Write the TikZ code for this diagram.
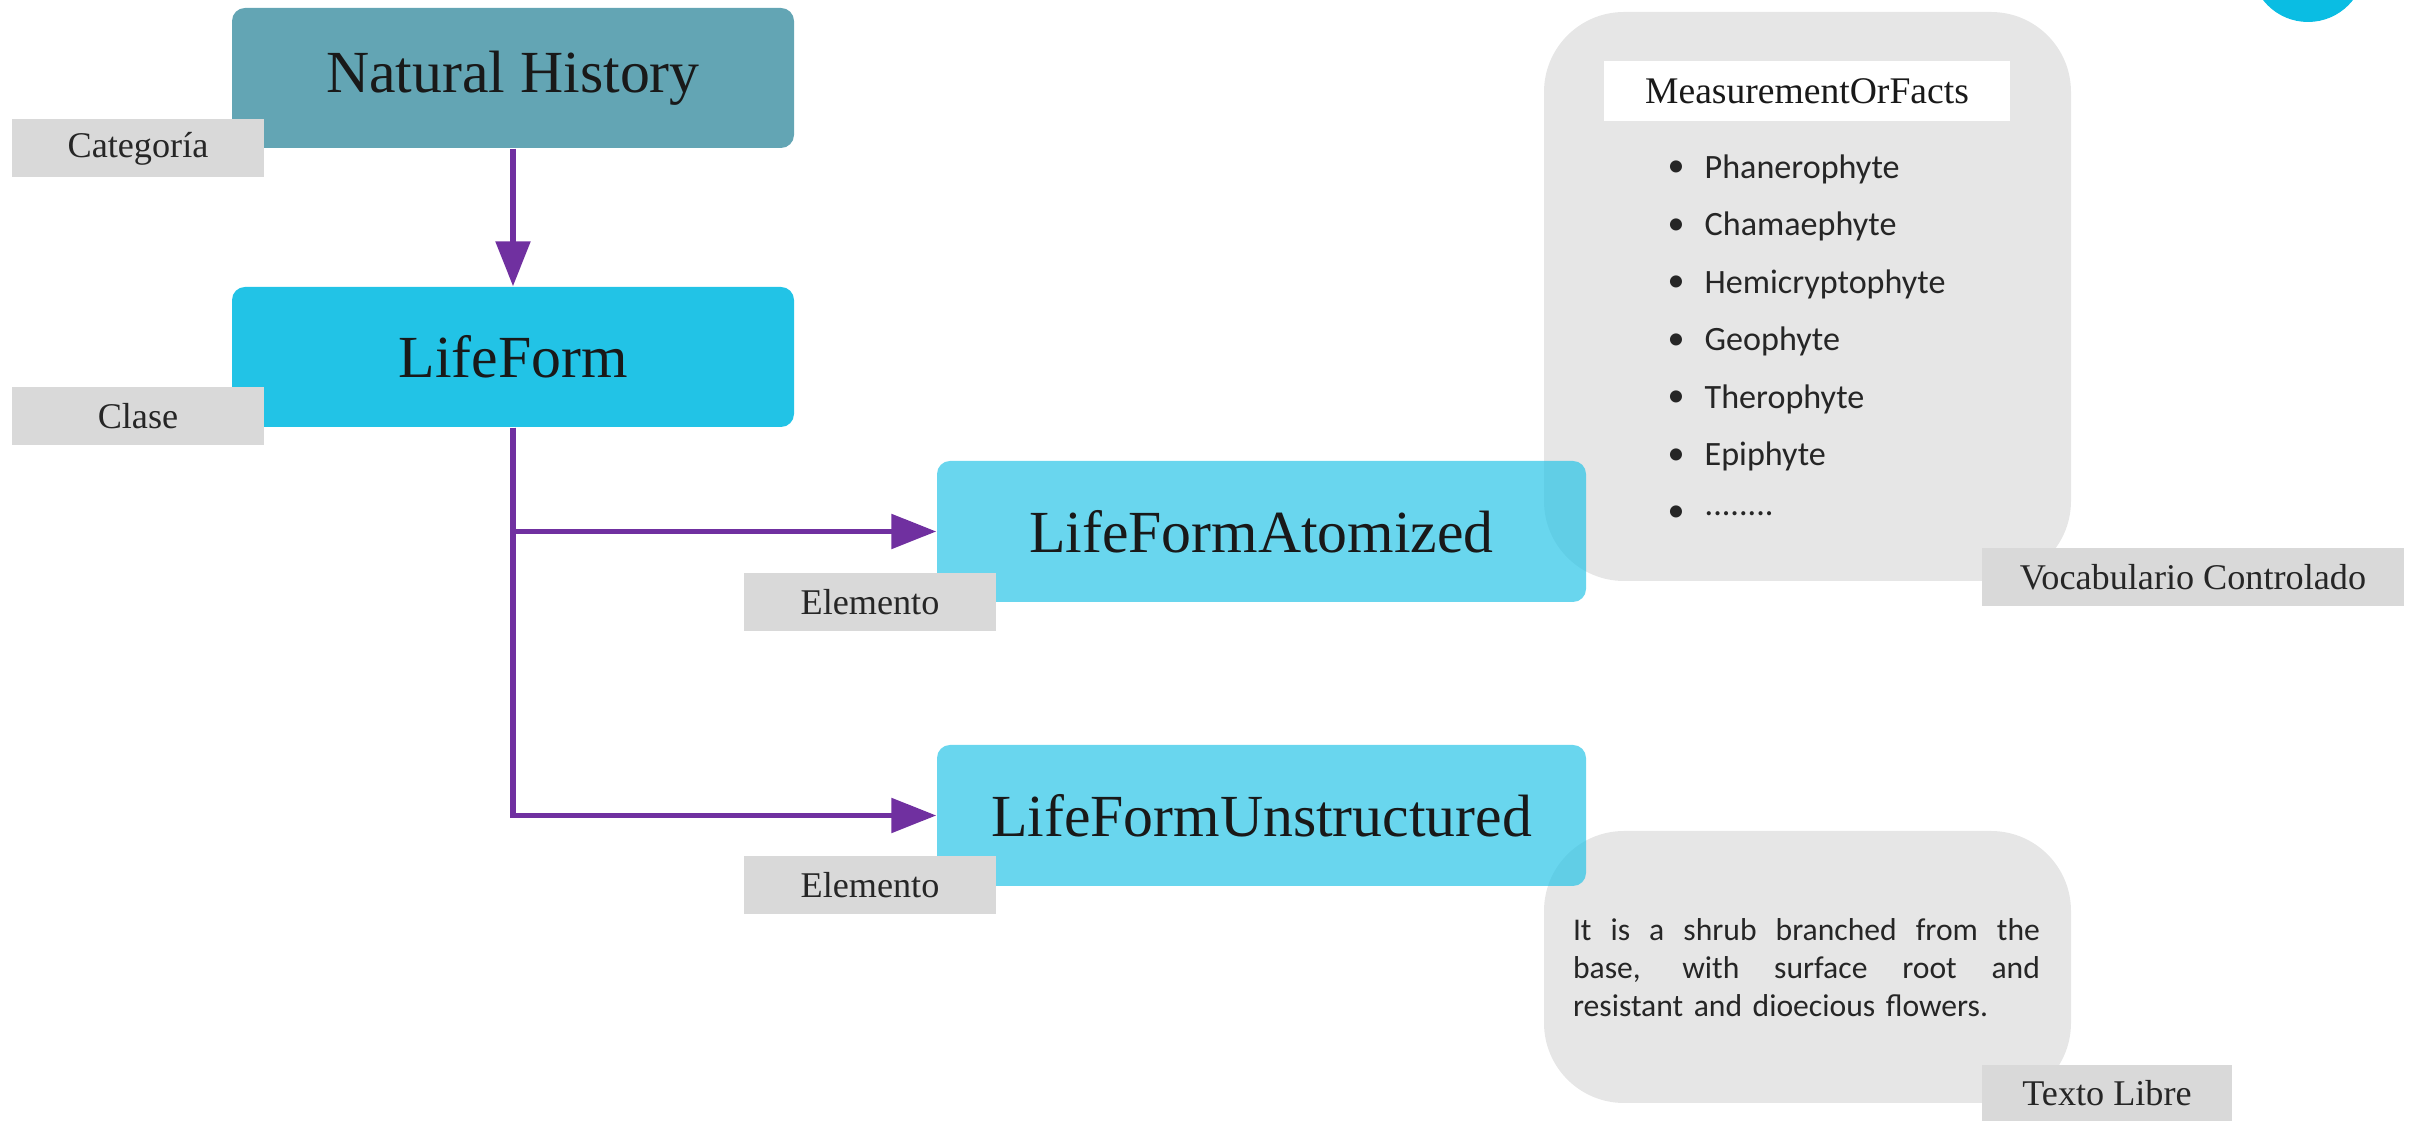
\documentclass[tikz,border=0pt]{standalone}
\usepackage{fontspec}
\setmainfont{Liberation Serif}
\newfontfamily\bodyfont{Carlito}
\usepackage{tikz}
\usetikzlibrary{positioning}
\usetikzlibrary{arrows.meta}

\definecolor{nhteal}{HTML}{63A5B4}
\definecolor{lfblue}{HTML}{22C3E6}
\definecolor{panelgrey}{HTML}{E6E6E6}
\definecolor{taggrey}{HTML}{D9D9D9}
\definecolor{tagtext}{HTML}{262626}
\definecolor{linkpurple}{HTML}{7030A0}
\definecolor{dotblue}{HTML}{0ABDE3}
\newcommand{\dotrow}{........}
\newcommand{\fullline}[1]{\leavevmode\hbox to 4.67cm{\spaceskip=0.25em plus 1fil\relax #1}}

\begin{document}
\begin{tikzpicture}[
        classbox/.style={rounded corners=0.13cm, minimum width=5.62cm, minimum height=1.40cm, text=black!90, font=\fontsize{17}{20}\selectfont},
        elembox/.style={rounded corners=0.13cm, fill=lfblue, fill opacity=0.68, text opacity=1, minimum width=6.49cm, minimum height=1.41cm, text=black!90, font=\fontsize{17}{20}\selectfont},
        tagbox/.style={fill=taggrey, minimum height=0.58cm, inner sep=0pt, text=tagtext, font=\fontsize{10.3}{12}\selectfont},
        panel/.style={fill=panelgrey, rounded corners=0.8cm, minimum width=5.27cm},
        listtext/.style={inner sep=0pt, text=black!85, font=\bodyfont\fontsize{9.7}{11}\selectfont},
        link/.style={draw=linkpurple, line width=1.6pt, -{Triangle[length=0.45cm, width=0.34cm]}}
    ]
        \useasboundingbox (0, 0) rectangle (24.09, -11.21);
        \clip (0, 0) rectangle (24.09, -11.21);
        \node(dot) [circle, fill=dotblue, minimum size=1.14cm] at (23.08, 0.35) {};
        % grey panels on the right
        \node(vocpanel) [panel, minimum height=5.69cm] at (18.075, -2.965) {};
        \node(freepanel) [panel, minimum height=2.72cm] at (18.075, -9.67) {};
        \node(mof) [fill=white, minimum width=4.06cm, minimum height=0.60cm, inner sep=0pt, text=black!90, font=\fontsize{10.7}{12}\selectfont] at (18.07, -0.91) {MeasurementOrFacts};
        \foreach \plant [count=\i from 0] in {Phanerophyte, Chamaephyte, Hemicryptophyte, Geophyte, Therophyte, Epiphyte, \dotrow} {
            \node(blt\i) [listtext] at (16.76, {-1.69-0.575*\i}) {\textbullet};
            \node(plant\i) [listtext, anchor=west] at (17.04, {-1.69-0.575*\i}) {\plant};
        }
        \node(freetext) [text width=4.67cm, inner sep=0pt, text=black!85, font=\bodyfont\fontsize{9}{10.8}\selectfont] at (18.065, -9.68) {\fullline{It is a shrub branched from the}\\\fullline{base, with surface root and}\\resistant and dioecious flowers.};
        % class boxes
        \node(nath) [classbox, fill=nhteal] at (5.13, -0.78) {Natural History};
        \node(lifeform) [classbox, fill=lfblue] at (5.13, -3.57) {LifeForm};
        \node(atom) [elembox] at (12.615, -5.315) {LifeFormAtomized};
        \node(unstr) [elembox] at (12.615, -8.155) {LifeFormUnstructured};
        % tags
        \node(catlbl) [tagbox, minimum width=2.52cm] at (1.38, -1.485) {Categoría};
        \node(clslbl) [tagbox, minimum width=2.52cm] at (1.38, -4.165) {Clase};
        \node(ellbl1) [tagbox, minimum width=2.52cm] at (8.70, -6.02) {Elemento};
        \node(ellbl2) [tagbox, minimum width=2.52cm] at (8.70, -8.85) {Elemento};
        \node(voclbl) [tagbox, minimum width=4.22cm] at (21.93, -5.775) {Vocabulario Controlado};
        \node(freelbl) [tagbox, minimum width=2.50cm, minimum height=0.56cm] at (21.07, -10.93) {Texto Libre};
        % links
        \draw[link] (nath) -- (lifeform);
        \draw[link] (lifeform.south) |- (atom.west);
        \draw[link] (lifeform.south) |- (unstr.west);
    \end{tikzpicture}
\end{document}
